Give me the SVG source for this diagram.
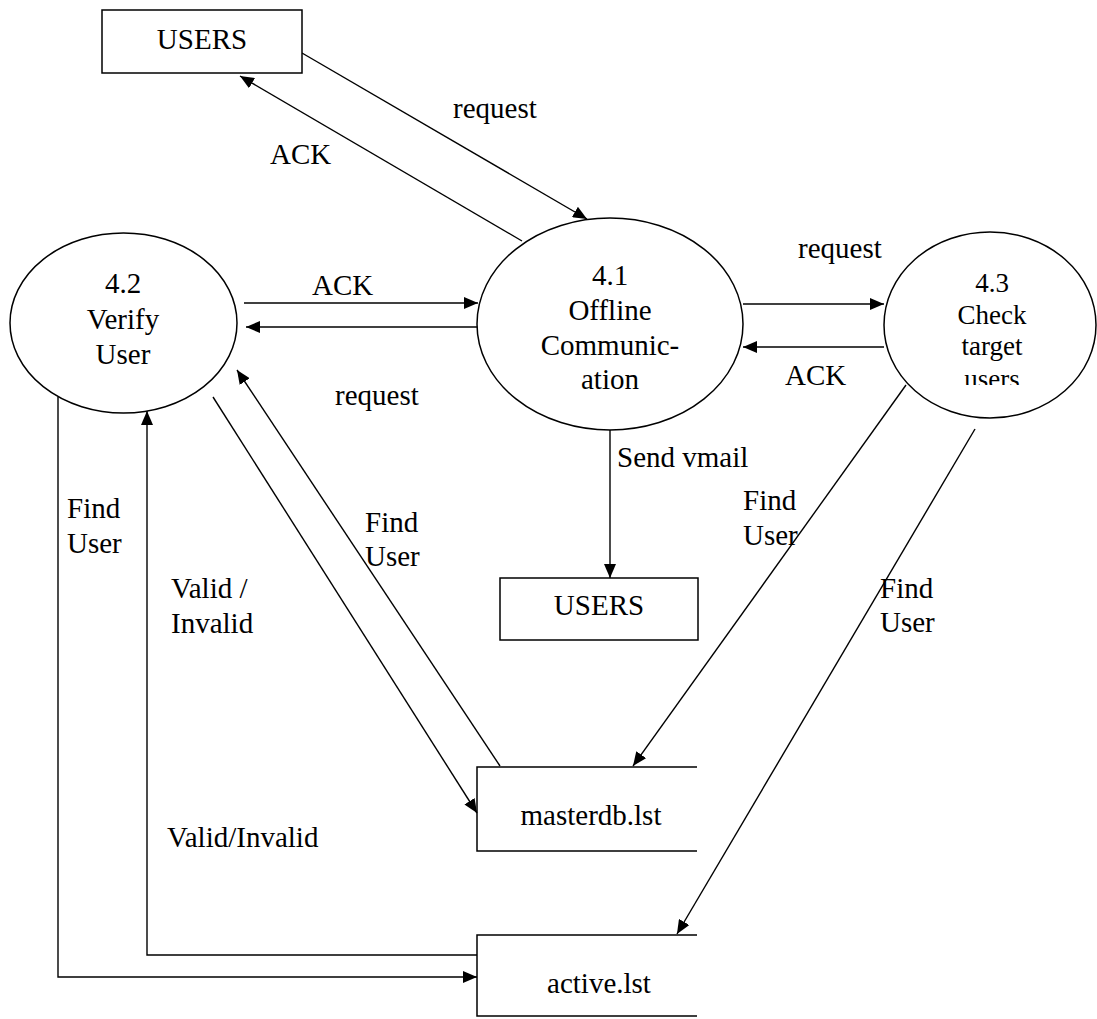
<svg xmlns="http://www.w3.org/2000/svg" width="1097" height="1019" viewBox="0 0 1097 1019">
  <defs>
    <marker id="arrow" markerUnits="userSpaceOnUse" markerWidth="14" markerHeight="12" refX="14" refY="6" orient="auto">
      <path d="M0,0 L14,6 L0,12 z" fill="#000"/>
    </marker>
    <clipPath id="clip-users">
      <rect x="930" y="360" width="120" height="25"/>
    </clipPath>
    <style>
      .shape { fill: #fff; stroke: #000; stroke-width: 1.5; }
      .store { fill: none; stroke: #000; stroke-width: 1.5; }
      .flow { fill: none; stroke: #000; stroke-width: 1.4; }
      .arr { marker-end: url(#arrow); }
      .mid { text-anchor: middle; }
      .small { font-size: 27px; }
    </style>
  </defs>
  <rect width="1097" height="1019" fill="#fff"/>

  <!-- data flows -->
  <g id="connectors">
    <!-- USERS <-> 4.1 -->
    <line class="flow arr" x1="302" y1="53" x2="587" y2="219"/>
    <line class="flow arr" x1="522" y1="241" x2="240" y2="76"/>
    <!-- 4.2 <-> 4.1 -->
    <line class="flow arr" x1="244" y1="303" x2="478" y2="303"/>
    <line class="flow arr" x1="478" y1="327" x2="246" y2="327"/>
    <!-- 4.1 <-> 4.3 -->
    <line class="flow arr" x1="743" y1="304" x2="884" y2="304"/>
    <line class="flow arr" x1="884" y1="347" x2="743" y2="347"/>
    <!-- 4.1 -> USERS (vmail) -->
    <line class="flow arr" x1="610" y1="430" x2="610" y2="578"/>
    <!-- 4.2 <-> masterdb.lst -->
    <line class="flow arr" x1="500" y1="766" x2="237" y2="370"/>
    <line class="flow arr" x1="213" y1="397" x2="477" y2="813"/>
    <!-- 4.3 -> masterdb.lst / active.lst -->
    <line class="flow arr" x1="906" y1="385" x2="633" y2="766"/>
    <line class="flow arr" x1="975" y1="429" x2="677" y2="934"/>
    <!-- 4.2 <-> active.lst -->
    <polyline class="flow arr" points="58,397 58,977 477,977"/>
    <polyline class="flow arr" points="477,955 147,955 147,411"/>
  </g>

  <g font-family="'Liberation Serif', 'DejaVu Serif', serif" font-size="29" fill="#000">
    <!-- flow labels -->
    <g id="labels">
      <text x="453" y="118">request</text>
      <text x="270" y="164">ACK</text>
      <text x="312" y="295">ACK</text>
      <text x="335" y="405">request</text>
      <text x="798" y="258">request</text>
      <text x="785" y="385">ACK</text>
      <text x="617" y="467">Send vmail</text>
      <text x="67" y="518">Find</text>
      <text x="67" y="553">User</text>
      <text x="171" y="598">Valid /</text>
      <text x="171" y="633">Invalid</text>
      <text x="365" y="532">Find</text>
      <text x="365" y="566">User</text>
      <text x="743" y="510">Find</text>
      <text x="743" y="545">User</text>
      <text x="880" y="598">Find</text>
      <text x="880" y="632">User</text>
      <text x="167" y="847">Valid/Invalid</text>
    </g>

    <!-- external entities -->
    <g id="users-top">
      <rect class="shape" x="102" y="10" width="200" height="63"/>
      <text class="mid" x="202" y="49">USERS</text>
    </g>
    <g id="users-bottom">
      <rect class="shape" x="500" y="578" width="198" height="62"/>
      <text class="mid" x="599" y="615">USERS</text>
    </g>

    <!-- processes -->
    <g id="p4-2">
      <ellipse class="shape" cx="123.5" cy="323" rx="113.5" ry="90"/>
      <text class="mid" x="123" y="293">4.2</text>
      <text class="mid" x="123" y="329">Verify</text>
      <text class="mid" x="123" y="364">User</text>
    </g>
    <g id="p4-1">
      <ellipse class="shape" cx="610" cy="324" rx="133" ry="106"/>
      <text class="mid" x="610" y="285">4.1</text>
      <text class="mid" x="610" y="320">Offline</text>
      <text class="mid" x="610" y="355">Communic-</text>
      <text class="mid" x="610" y="389">ation</text>
    </g>
    <g id="p4-3">
      <ellipse class="shape" cx="990" cy="325" rx="106" ry="93"/>
      <text class="mid small" x="992" y="292">4.3</text>
      <text class="mid small" x="992" y="324">Check</text>
      <text class="mid small" x="992" y="355">target</text>
      <text class="mid small" x="992" y="388" clip-path="url(#clip-users)">users</text>
    </g>

    <!-- data stores (open on the right) -->
    <g id="masterdb">
      <path class="store" d="M697,767 H477 V851 H697"/>
      <text class="mid" x="591" y="825">masterdb.lst</text>
    </g>
    <g id="active">
      <path class="store" d="M697,935 H477 V1016 H697"/>
      <text class="mid" x="599" y="993">active.lst</text>
    </g>
  </g>
</svg>
